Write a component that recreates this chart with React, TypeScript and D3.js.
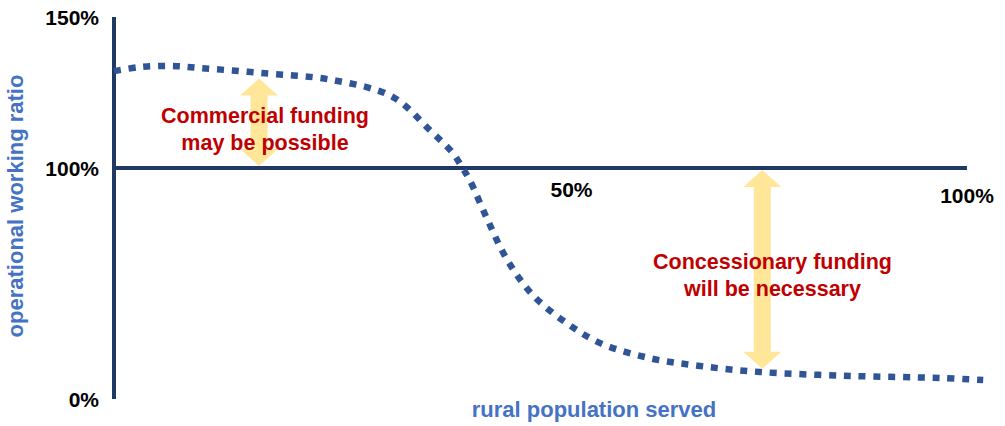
import React from 'react';
import * as d3 from 'd3';

// curve: share of rural population served (%) vs operational working ratio (%)
const curveX = [0, 3, 6.6, 10.1, 17.1, 25.7, 32.7, 37, 39.7, 40.8, 41.7, 43.8, 46.1, 49.1, 52.9, 57, 62.8, 68.7, 75.7, 86.3, 96.8, 101.9];
const curveY = [132.1, 133.4, 133.8, 133.1, 131.5, 129.1, 123.5, 112.6, 105, 100.3, 94.8, 77.5, 60.2, 45, 33.3, 24.2, 17.7, 14.3, 11.7, 10, 9.1, 8.2];

const yTickValues = [0, 100, 150];
const yTickLabels = ['0%', '100%', '150%'];
const xTickValues = [50, 100];
const xTickLabels = ['50%', '100%'];

const arrowX = [17, 76];
const arrowTop = [130.3, 100];
const arrowBottom = [100, 12.2];

const noteX = [17.7, 77.2];
const noteY = [114.9, 56.3];
const noteLines = [
  ['Commercial funding', 'may be possible'],
  ['Concessionary funding', 'will be necessary'],
];

const W = 1005;
const H = 426;
const FONT = '"Liberation Sans", Arial, sans-serif';
const NAVY = '#203864';
const BLUE = '#2f5597';
const LABEL_BLUE = '#4472c4';
const RED = '#c00000';
const YELLOW = '#ffe699';

const App = () => {
  const x = d3.scaleLinear().domain([0, 100]).range([114, 967]);
  // schematic axis: the 0-100 and 100-150 bands are not drawn to the same scale
  const y = d3.scaleLinear().domain([0, 100, 150]).range([399, 168, 17]);

  const pts: [number, number][] = curveX.map((v, i) => [v, curveY[i]]);
  const line = d3.line<[number, number]>()
    .x(d => x(d[0]))
    .y(d => y(d[1]))
    .curve(d3.curveCatmullRom.alpha(0.5));

  const arrowPath = (cx: number, top: number, bottom: number) => {
    const shaft = 8.5;
    const head = 19;
    const headLen = 17;
    const t = top + 2;
    const b = bottom - 2;
    const p = d3.path();
    p.moveTo(cx, t);
    p.lineTo(cx + head, t + headLen);
    p.lineTo(cx + shaft, t + headLen);
    p.lineTo(cx + shaft, b - headLen);
    p.lineTo(cx + head, b - headLen);
    p.lineTo(cx, b);
    p.lineTo(cx - head, b - headLen);
    p.lineTo(cx - shaft, b - headLen);
    p.lineTo(cx - shaft, t + headLen);
    p.lineTo(cx - head, t + headLen);
    p.closePath();
    return p.toString();
  };

  const xLabelDx = [31, 0];
  const xLabelBase = [197, 203];

  return (
    <svg width={W} height={H} style={{ position: 'absolute', left: 0, top: 0, background: '#fff' }}>
      {/* arrows */}
      {arrowX.map((ax, i) => (
        <path key={'a' + i} d={arrowPath(x(ax), y(arrowTop[i]), y(arrowBottom[i]))} fill={YELLOW} />
      ))}

      {/* axes */}
      <line x1={x(0)} x2={x(0)} y1={y(150)} y2={y(0)} stroke={NAVY} strokeWidth={4} />
      <line x1={x(0)} x2={x(100)} y1={y(100)} y2={y(100)} stroke={NAVY} strokeWidth={4} />

      {/* curve */}
      <path d={line(pts) || ''} fill="none" stroke={BLUE} strokeWidth={6.5} strokeDasharray="7 7.8" />

      {/* y tick labels */}
      {yTickValues.map((v, i) => (
        <text key={'y' + i} x={99} y={y(v)} dy="0.36em" textAnchor="end"
          fontFamily={FONT} fontWeight="bold" fontSize={21} fill="#000">{yTickLabels[i]}</text>
      ))}

      {/* x tick labels */}
      {xTickValues.map((v, i) => (
        <text key={'x' + i} x={x(v) + xLabelDx[i]} y={xLabelBase[i]} textAnchor="middle"
          fontFamily={FONT} fontWeight="bold" fontSize={21} fill="#000">{xTickLabels[i]}</text>
      ))}

      {/* annotations */}
      {noteLines.map((lines, i) => (
        <text key={'n' + i} x={x(noteX[i])} y={y(noteY[i])} textAnchor="middle"
          fontFamily={FONT} fontWeight="bold" fontSize={21.5} fill={RED}>
          {lines.map((l, j) => (
            <tspan key={j} x={x(noteX[i])} dy={j === 0 ? 0 : 27}>{l}</tspan>
          ))}
        </text>
      ))}

      {/* axis titles */}
      <text transform="translate(23,206) rotate(-90)" textAnchor="middle"
        fontFamily={FONT} fontWeight="bold" fontSize={22} fill={LABEL_BLUE}>operational working ratio</text>
      <text x={594} y={417} textAnchor="middle"
        fontFamily={FONT} fontWeight="bold" fontSize={22} fill={LABEL_BLUE}>rural population served</text>
    </svg>
  );
};

export default App;
